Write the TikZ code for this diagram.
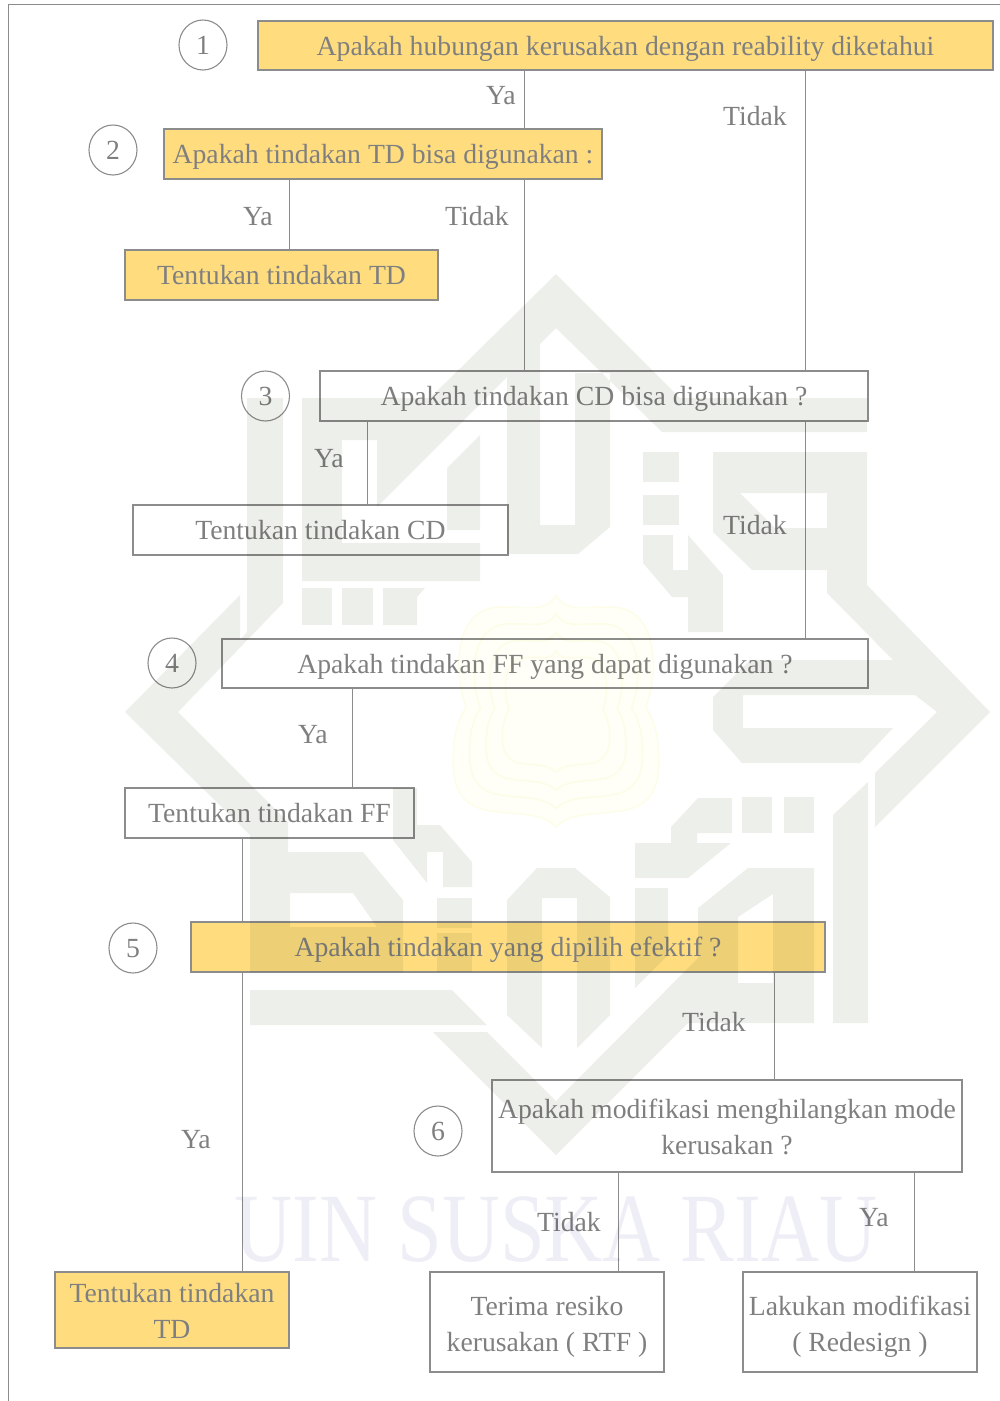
\documentclass[tikz,border=0pt]{standalone}
\usepackage{fontspec}
\setmainfont{Liberation Serif}
\definecolor{ink}{HTML}{7F7F7F}
\definecolor{edge}{HTML}{8C8C8C}
\definecolor{gold}{HTML}{FFDD7F}
\definecolor{wmgrey}{HTML}{EDEFEB}
\definecolor{wmblue}{HTML}{EEEEF6}
\definecolor{wmyel}{HTML}{FDFDEE}
\definecolor{wmyelfill}{HTML}{FFFFF8}
\tikzset{
  x=1pt,y=-1pt,
  every node/.style={font=\fontsize{27.7}{36}\selectfont,text=ink,inner sep=0pt,outer sep=0pt},
  plainbox/.style={draw=edge,line width=1.1pt,align=center},
  onelinebox/.style={plainbox,text height=22.5pt,text depth=3.5pt},
  goldbox/.style={fill=gold},
  numcircle/.style={draw=edge,line width=1.1pt,ellipse,minimum width=48pt,minimum height=50pt,text height=22.5pt,text depth=3.5pt},
  lbl/.style={text height=22.5pt,text depth=3.5pt},
  link/.style={draw=edge,line width=1pt},
  wm/.style={fill=wmgrey,even odd rule,draw=none},
}
\usetikzlibrary{shapes.geometric}
\newcommand{\upA}{\rule{0pt}{21pt}}
\newcommand{\upB}{\rule{0pt}{29pt}}
\begin{document}
\begin{tikzpicture}
\useasboundingbox (0,0) rectangle (1000,1401);
\coordinate (frameA) at (8,1401);
\coordinate (frameB) at (8,4);
\coordinate (frameC) at (1000,4);
\draw[link] (frameA) -- (frameB) -- (frameC);

% boxes
\node[onelinebox,goldbox,minimum width=735pt,minimum height=49pt] (b1) at (625.5,45.5) {Apakah hubungan kerusakan dengan reability diketahui};
\node[onelinebox,goldbox,minimum width=438pt,minimum height=50pt] (b2) at (383,154) {Apakah tindakan TD bisa digunakan :};
\node[onelinebox,goldbox,minimum width=313pt,minimum height=50pt] (b2y) at (281.5,275) {Tentukan tindakan TD};
\node[onelinebox,minimum width=548pt,minimum height=50pt] (b3) at (594,396) {Apakah tindakan CD bisa digunakan ?};
\node[onelinebox,minimum width=375pt,minimum height=50pt] (b3y) at (320.5,530) {Tentukan tindakan CD};
\node[onelinebox,minimum width=646pt,minimum height=49pt] (b4) at (545,663.5) {Apakah tindakan FF yang dapat digunakan ?};
\node[onelinebox,minimum width=289pt,minimum height=50pt] (b4y) at (269.5,813) {Tentukan tindakan FF};
\node[onelinebox,goldbox,minimum width=634pt,minimum height=50pt] (b5) at (508,947) {Apakah tindakan yang dipilih efektif ?};
\node[plainbox,minimum width=470pt,minimum height=92pt] (b6) at (727,1126) {\upA Apakah modifikasi menghilangkan mode\\kerusakan ?};
\node[plainbox,goldbox,minimum width=234pt,minimum height=76pt] (bt) at (172,1310) {\upA Tentukan tindakan\\TD};
\node[plainbox,minimum width=234pt,minimum height=100pt] (b7) at (547,1322) {\upB Terima resiko\\kerusakan ( RTF )};
\node[plainbox,minimum width=234pt,minimum height=100pt] (b8) at (860,1322) {\upB Lakukan modifikasi\\( Redesign )};

% numbered circles
\node[numcircle] (c1) at (203,45) {1};
\node[numcircle] (c2) at (113,150) {2};
\node[numcircle] (c3) at (265.5,396) {3};
\node[numcircle] (c4) at (172,663) {4};
\node[numcircle] (c5) at (133,948) {5};
\node[numcircle] (c6) at (438,1131) {6};

% connectors
\draw[link] (b1.south -| 524,0) -- (b2.north -| 524,0);
\draw[link] (b2.south -| 524,0) -- (b3.north -| 524,0);
\draw[link] (b1.south -| 805,0) -- (b3.north -| 805,0);
\draw[link] (b3.south -| 805,0) -- (b4.north -| 805,0);
\draw[link] (b2.south -| 289.5,0) -- (b2y.north -| 289.5,0);
\draw[link] (b3.south -| 367,0) -- (b3y.north -| 367,0);
\draw[link] (b4.south -| 352,0) -- (b4y.north -| 352,0);
\draw[link] (b4y.south -| 242,0) -- (b5.north -| 242,0);
\draw[link] (b5.south -| 242,0) -- (bt.north -| 242,0);
\draw[link] (b5.south -| 774,0) -- (b6.north -| 774,0);
\draw[link] (b6.south -| 618,0) -- (b7.north -| 618,0);
\draw[link] (b6.south -| 914.5,0) -- (b8.north -| 914.5,0);

% connector labels
\node[lbl] (l1) at (501,95) {Ya};
\node[lbl] (l2) at (755,116) {Tidak};
\node[lbl] (l3) at (258,216) {Ya};
\node[lbl] (l4) at (477,216) {Tidak};
\node[lbl] (l5) at (329,458) {Ya};
\node[lbl] (l6) at (755,525) {Tidak};
\node[lbl] (l7) at (313,734) {Ya};
\node[lbl] (l8) at (714,1022) {Tidak};
\node[lbl] (l9) at (196,1139) {Ya};
\node[lbl] (l10) at (569,1222) {Tidak};
\node[lbl] (l11) at (874,1217) {Ya};

% watermark
\begin{scope}[blend mode=multiply]
% central emblem
\fill[wmyelfill] (0+556,117+712-2) .. controls (-30+556,85+712) and (-103+556,125+712) .. (-103+556,50+712)
  .. controls (-103+556,15+712) and (-95+556,5+712) .. (-90+556,-5+712)
  .. controls (-103+556,-40+712) and (-103+556,-105+712) .. (-55+556,-105+712)
  .. controls (-25+556,-105+712) and (-10+556,-100+712) .. (0+556,-117+712)
  .. controls (10+556,-100+712) and (25+556,-105+712) .. (55+556,-105+712)
  .. controls (103+556,-105+712) and (103+556,-40+712) .. (90+556,-5+712)
  .. controls (95+556,5+712) and (103+556,15+712) .. (103+556,50+712)
  .. controls (103+556,125+712) and (30+556,85+712) .. (0+556,117+712-2) -- cycle;
\foreach \s in {1,.84,.68,.52}{
\draw[wmyel,line width=1.6pt,shift={(556,712)},scale=\s]
  (0,115) .. controls (-30,85) and (-103,125) .. (-103,50)
  .. controls (-103,15) and (-95,5) .. (-90,-5)
  .. controls (-103,-40) and (-103,-105) .. (-55,-105)
  .. controls (-25,-105) and (-10,-100) .. (0,-117)
  .. controls (10,-100) and (25,-105) .. (55,-105)
  .. controls (103,-105) and (103,-40) .. (90,-5)
  .. controls (95,5) and (103,15) .. (103,50)
  .. controls (103,125) and (30,85) .. (0,115) -- cycle;
}
% top chevron with U and left letter
\fill[wm] (556,274) -- (680,398) -- (867,398) -- (867,432) -- (662,432) -- (556,328)
  -- (540,344) -- (540,525) -- (575,525) -- (575,373) -- (610,373) -- (610,527)
  -- (578,554) -- (507,554) -- (507,377) -- (377,507) -- (377,440) -- (342,440)
  -- (342,543) -- (480,543) -- (480,581) -- (302,581) -- (302,398) -- (430,398) -- cycle;
\fill[wm] (447,468) -- (480,435) -- (480,530) -- (447,530) -- cycle;
% three squares
\fill[wm] (302,588) rectangle (332,625);
\fill[wm] (342,588) rectangle (373,625);
\fill[wm] (383,588) -- (425,588) -- (417,597) -- (417,625) -- (383,625) -- cycle;
% left chevron + bar + B shape
\fill[wm] (247,398) -- (283,398) -- (283,603) -- (178,712) -- (288,822) -- (288,852)
  -- (363,852) -- (403,900) -- (403,972) -- (250,972) -- (250,835) -- (125,712)
  -- (240,595) -- (240,640) -- (247,632) -- cycle
  (290,893) -- (353,893) -- (377,927) -- (290,927) -- cycle;
\fill[wm] (250,990) -- (452,990) -- (487,1025) -- (250,1025) -- cycle;
% right side
\fill[wm] (643,452) rectangle (679,482);
\fill[wm] (643,495) rectangle (679,525);
\fill[wm] (643,535) -- (673,535) -- (673,570) -- (688,570) -- (688,535) -- (723,575)
  -- (723,632) -- (688,632) -- (688,597) -- (672,597) -- (643,563) -- cycle;
\fill[wm] (867,452) -- (867,585) -- (990,712) -- (875,827) -- (875,773) -- (937,712)
  -- (915,695) -- (743,695) -- (743,728) -- (893,728) -- (860,763) -- (742,763)
  -- (713,730) -- (713,697) -- (750,660) -- (893,660) -- (827,593) -- (827,570)
  -- (752,570) -- (713,532) -- (713,452) -- cycle
  (740,493) -- (827,493) -- (827,528) -- (775,528) -- cycle;
% lower right letters
\fill[wm] (833,815) -- (868,782) -- (868,1023) -- (833,1023) -- cycle;
\fill[wm] (742,797) rectangle (772,833);
\fill[wm] (784,797) rectangle (814,833);
\fill[wm] (671,827) -- (698,798) -- (732,798) -- (732,833) -- (697,833) -- (697,843)
  -- (731,843) -- (688,878) -- (635,878) -- (635,843) -- (671,843) -- cycle;
\fill[wm] (635,888) -- (668,888) -- (668,955) -- (635,988) -- cycle;
\fill[wm] (698,908) -- (748,868) -- (814,868) -- (814,1023) -- (688,1023) -- (556,1155)
  -- (433,1032) -- (487,1032) -- (556,1101) -- (698,958) -- cycle
  (738,917) -- (773,894) -- (773,983) -- (738,983) -- cycle;
% middle letters
\fill[wm] (393,788) -- (417,788) -- (417,825) -- (440,825) -- (472,862) -- (472,887)
  -- (443,887) -- (443,852) -- (427,852) -- (427,883) -- (393,840) -- cycle;
\fill[wm] (437,898) rectangle (472,928);
\fill[wm] (437,933) rectangle (472,972);
\fill[wm] (507,900) -- (537,868) -- (575,868) -- (610,897) -- (610,1015) -- (577,1048)
  -- (577,898) -- (542,898) -- (542,1048) -- (507,1015) -- cycle;
\node[font=\fontsize{98}{98}\selectfont,text=wmblue,xscale=.82] (wmtext) at (556,1230) {UIN SUSKA RIAU};
\end{scope}
\end{tikzpicture}
\end{document}
